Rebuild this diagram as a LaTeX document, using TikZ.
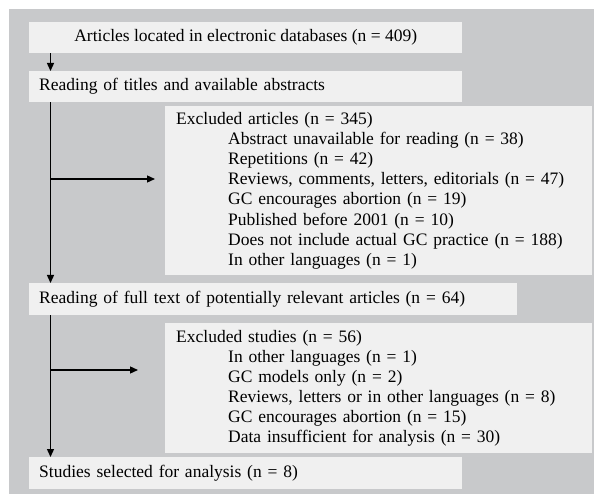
\documentclass[tikz,border=0pt]{standalone}
\usepackage{fontspec}
\setmainfont{Liberation Serif}
\usetikzlibrary{arrows.meta}
\definecolor{bggray}{RGB}{200,201,203}
\definecolor{boxfill}{RGB}{240,240,240}
\begin{document}
\begin{tikzpicture}[x=1pt,y=-1pt,
  font=\fontsize{17.5}{20.1}\selectfont,
  box/.style={fill=boxfill, inner ysep=0pt, anchor=north west},
  leftbox/.style={box, inner xsep=10pt, align=left},
  exbox/.style={box, inner xsep=11pt, align=left},
  arr/.style={line width=1.3pt, -{Triangle[length=8pt,width=7pt]}},
  ln/.style={line width=1.3pt}]
\useasboundingbox (0,0) rectangle (594,494);
\fill[bggray] (9,9) rectangle (594,494);

\node[box, inner xsep=0pt, minimum width=433pt, minimum height=31pt] (a) at (29,22)
  {Articles located in electronic databases (n = 409)};
\node[leftbox, text width=413pt, minimum height=31pt] (b) at (29,71)
  {Reading of titles and available abstracts};
\node[exbox, text width=405pt, minimum height=169pt] (c) at (165,106)
  {Excluded articles (n = 345)\\
   \hspace*{52pt}Abstract unavailable for reading (n = 38)\\
   \hspace*{52pt}Repetitions (n = 42)\\
   \hspace*{52pt}Reviews, comments, letters, editorials (n = 47)\\
   \hspace*{52pt}GC encourages abortion (n = 19)\\
   \hspace*{52pt}Published before 2001 (n = 10)\\
   \hspace*{52pt}Does not include actual GC practice (n = 188)\\
   \hspace*{52pt}In other languages (n = 1)};
\node[leftbox, text width=468pt, minimum height=32pt] (d) at (29,283)
  {Reading of full text of potentially relevant articles (n = 64)};
\node[exbox, text width=405pt, minimum height=130pt] (e) at (165,323)
  {Excluded studies (n = 56)\\
   \hspace*{52pt}In other languages (n = 1)\\
   \hspace*{52pt}GC models only (n = 2)\\
   \hspace*{52pt}Reviews, letters or in other languages (n = 8)\\
   \hspace*{52pt}GC encourages abortion (n = 15)\\
   \hspace*{52pt}Data insufficient for analysis (n = 30)};
\node[leftbox, text width=413pt, minimum height=32pt] (f) at (29,457)
  {Studies selected for analysis (n = 8)};

\coordinate (j1) at (50.5,179);
\coordinate (e1) at (155,179);
\coordinate (j2) at (50.5,370);
\coordinate (e2) at (138,370);

\draw[arr] ([xshift=21.5pt]a.south west) -- ([xshift=21.5pt]b.north west);
\draw[arr] ([xshift=21.5pt]b.south west) -- ([xshift=21.5pt]d.north west);
\draw[arr] (j1) -- (e1);
\draw[arr] ([xshift=21.5pt]d.south west) -- ([xshift=21.5pt]f.north west);
\draw[arr] (j2) -- (e2);
\end{tikzpicture}
\end{document}
